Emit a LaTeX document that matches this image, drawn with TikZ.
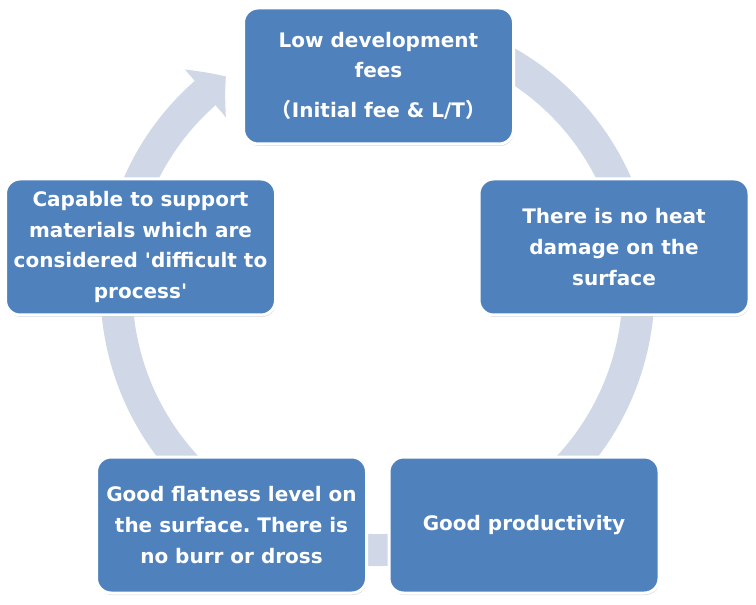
\documentclass[tikz,border=0pt]{standalone}
\usepackage{fontspec}
\setmainfont{DejaVu Sans}
\newfontfamily\cjk{Noto Sans CJK JP}
\usetikzlibrary{arrows.meta, bending, shadows}
\definecolor{boxblue}{HTML}{4F81BD}
\definecolor{ringgray}{HTML}{D0D8E8}
\frenchspacing

\begin{document}
\begin{tikzpicture}[x=0.75pt, y=0.75pt,
        merit/.style={rectangle, rounded corners=11pt, draw=white, line width=2.25pt, fill=boxblue,
            minimum width=202.5pt, minimum height=102pt, inner sep=0pt, align=center, text=white,
            font=\fontsize{15pt}{23pt}\selectfont\bfseries,
            drop shadow={shadow xshift=0.6pt, shadow yshift=-1.5pt, opacity=0.3}},
        cycle/.style={draw=ringgray, line width=24pt, -{Triangle[length=20pt, width=46pt, bend]}}]
        \useasboundingbox (0,0) rectangle (756,-605);
        \coordinate (c) at (377.5,-289);

        \draw[cycle] ([shift={(70:261)}]c) arc[start angle=70, end angle=-234.5, radius=261];

        \node[merit] (fees) at (378.5,-76) {Low development\\fees\\[7pt]{\cjk （}Initial fee \& L/T{\cjk ）}};
        \node[merit] (heat) at (614,-247) {There is no heat\\damage on the\\surface};
        \node[merit] (prod) at (524,-525) {Good productivity};
        \node[merit] (flat) at (231.5,-525) {Good flatness level on\\the surface. There is\\no burr or dross};
        \node[merit] (hard) at (140.5,-247) {Capable to support\\materials which are\\considered \textquotesingle difficult to\\process\textquotesingle};
    \end{tikzpicture}
\end{document}
